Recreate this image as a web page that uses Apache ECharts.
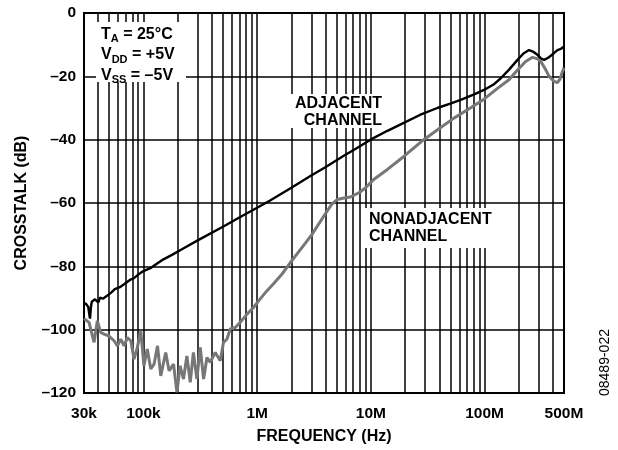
<!DOCTYPE html>
<html><head><meta charset="utf-8">
<script src="https://cdn.jsdelivr.net/npm/echarts@6/dist/echarts.min.js"></script>
<style>html,body{margin:0;padding:0;background:#fff}#c{width:618px;height:450px}</style>
</head><body><div id="c"></div>
<script>
// ---- data ----
const xTickValues = [30000, 100000, 1000000, 10000000, 100000000, 500000000];
const xTickLabels = ['30k', '100k', '1M', '10M', '100M', '500M'];
const yTicks = [-120, -100, -80, -60, -40, -20, 0];

const adjFreq = [30000,31500,32700,33500,33900,34500,35100,36500,37500,39000,40100,41500,44000,47500,52000,56000,62000,68000,76000,82000,90000,100000,115000,130000,150000,180000,218000,300000,500000,710000,1000000,1300000,2000000,2940000,3980000,5780000,7500000,9930000,14000000,19500000,27000000,38400000,50000000,61700000,80000000,98900000,120000000,139000000,165000000,195000000,220000000,246000000,270000000,292000000,315000000,334000000,360000000,383000000,410000000,438000000,470000000,500000000];
const adjDb = [-91.5,-92.0,-92.8,-95.5,-96.5,-93,-91.2,-90.8,-90.4,-91.0,-91.4,-89.9,-90.2,-89.4,-88.3,-87.2,-86.6,-85.6,-84.3,-83.8,-82.6,-81.5,-80.6,-79.3,-77.8,-76.3,-74.6,-71.8,-67.5,-64.4,-61.5,-59.2,-55.2,-51.5,-48.7,-45.1,-42.7,-40,-37.2,-34.7,-32.2,-30,-28.6,-27.4,-25.8,-24.3,-22.6,-20.6,-17.8,-14.8,-12.8,-11.7,-12.3,-13.2,-14.4,-14.8,-14.2,-13.5,-12.6,-11.7,-11.3,-10.6];

const nonFreq = [30000,31000,33200,36800,39300,42100,45000,49800,55100,59000,63200,67500,72200,77400,82700,88400,94800,101000,108000,116000,124000,133000,142000,157000,168000,184000,197000,210000,225000,241000,258000,275000,295000,316000,338000,362000,387000,428000,474000,506000,542000,580000,642000,710000,814000,930000,1030000,1200000,1400000,1650000,1960000,2400000,3040000,3850000,4500000,5050000,5800000,6620000,8000000,9000000,10600000,14000000,19500000,29200000,40000000,53800000,75000000,98900000,130000000,164000000,195000000,230000000,264000000,290000000,313000000,340000000,370000000,409000000,438000000,462000000,485000000,500000000];
const nonDb = [-96.5,-96.7,-97.7,-104,-97.2,-100.9,-101.4,-102,-103.5,-105.1,-103,-105.1,-102.5,-103.5,-109.3,-105.6,-100.4,-111.4,-106.1,-112.4,-110.9,-105.1,-114.6,-107.2,-113,-110.9,-119.8,-111.4,-115.6,-108.3,-116.6,-107.2,-115.6,-105.6,-115.6,-108.8,-110.3,-107.2,-109.8,-104,-103,-99.8,-99.3,-97.7,-95.1,-93,-90.9,-88,-85.4,-82.5,-78.8,-74.7,-69.9,-64.2,-60.5,-58.9,-58.4,-58.1,-56.6,-55.2,-52.6,-49.4,-45.3,-40,-36.5,-33.2,-30,-27.2,-23.8,-21.1,-18,-15.3,-14,-14.4,-15.3,-17.5,-20,-21.6,-22,-20.8,-18.5,-17.3];

// minor vertical grid positions (2..9 x decade, within axis range)
const minorGrid = [];
for (let d = 10000; d <= 100000000; d *= 10) {
  for (let m = 2; m <= 9; m++) {
    const v = m * d;
    if (v > 30000 && v < 500000000) minorGrid.push(v);
  }
}

const FONT = '"Liberation Sans", Arial, sans-serif';
const chart = echarts.init(document.getElementById('c'), null, {renderer: 'canvas'});

function xLabel(v) {
  for (let i = 0; i < xTickValues.length; i++) {
    if (Math.abs(v - xTickValues[i]) / xTickValues[i] < 1e-6) return xTickLabels[i];
  }
  return '';
}

const option = {
  animation: false,
  backgroundColor: '#fff',
  grid: {left: 84, right: 54, top: 13, bottom: 56, show: true, borderColor: '#000', borderWidth: 2, backgroundColor: 'transparent'},
  xAxis: {
    type: 'log', logBase: 10, min: 30000, max: 500000000,
    name: 'FREQUENCY (Hz)', nameLocation: 'middle', nameGap: 36,
    nameTextStyle: {fontFamily: FONT, fontWeight: 'bold', fontSize: 16, color: '#000'},
    axisLine: {show: true, onZero: false, lineStyle: {color: '#000', width: 2}},
    axisTick: {show: false},
    minorTick: {show: false},
    splitLine: {show: true, lineStyle: {color: '#000', width: 1.5}},
    axisLabel: {show: true, showMinLabel: true, showMaxLabel: true, margin: 13, formatter: xLabel,
      fontFamily: FONT, fontWeight: 'bold', fontSize: 15.5, color: '#000'}
  },
  yAxis: {
    type: 'value', min: yTicks[0], max: yTicks[yTicks.length - 1], interval: 20,
    name: 'CROSSTALK (dB)', nameLocation: 'middle', nameGap: 54,
    nameTextStyle: {fontFamily: FONT, fontWeight: 'bold', fontSize: 16, color: '#000'},
    axisLine: {show: true, lineStyle: {color: '#000', width: 2}},
    axisTick: {show: false},
    splitLine: {show: true, lineStyle: {color: '#000', width: 1.5}},
    axisLabel: {margin: 8, fontFamily: FONT, fontWeight: 'bold', fontSize: 15.5, color: '#000',
      formatter: v => v === 0 ? '0' : '\u2013' + Math.abs(v)}
  },
  series: [
    {
      type: 'line', name: 'grid', data: [], silent: true, z: 1,
      markLine: {
        z: 1, silent: true, symbol: 'none', animation: false,
        label: {show: false},
        lineStyle: {color: '#000', width: 1.5, type: 'solid'},
        emphasis: {disabled: true},
        data: minorGrid.map(v => ({xAxis: v}))
      }
    },
    {
      type: 'line', name: 'ADJACENT CHANNEL', showSymbol: false, z: 3,
      lineStyle: {color: '#000', width: 2.4}, itemStyle: {color: '#000'},
      data: adjFreq.map((f, i) => [f, adjDb[i]])
    },
    {
      type: 'line', name: 'NONADJACENT CHANNEL', showSymbol: false, z: 3,
      lineStyle: {color: '#777', width: 3}, itemStyle: {color: '#777'},
      data: nonFreq.map((f, i) => [f, nonDb[i]])
    }
  ],
  graphic: [
    {type: 'rect', z: 2, shape: {x: 96, y: 22, width: 90, height: 60}, style: {fill: '#fff'}, silent: true},
    {type: 'text', z: 2.5, x: 101, y: 24, silent: true, style: {
      text: 'T{sub|A} = 25°C\nV{sub|DD} = +5V\nV{sub|SS} = \u20135V',
      font: 'bold 16px ' + FONT, fill: '#000', lineHeight: 20.5,
      rich: {sub: {font: 'bold 11px ' + FONT, fill: '#000', verticalAlign: 'bottom', lineHeight: 20.5, padding: [10, 0, 0, 0]}}
    }},
    {type: 'rect', z: 2, shape: {x: 288, y: 94, width: 97, height: 34}, style: {fill: '#fff'}, silent: true},
    {type: 'text', z: 2.5, x: 382, y: 95, silent: true, style: {
      text: 'ADJACENT\nCHANNEL', font: 'bold 16px ' + FONT, fill: '#000', align: 'right', lineHeight: 17
    }},
    {type: 'rect', z: 2, shape: {x: 363, y: 208, width: 129, height: 40}, style: {fill: '#fff'}, silent: true},
    {type: 'text', z: 2.5, x: 369, y: 211, silent: true, style: {
      text: 'NONADJACENT\nCHANNEL', font: 'bold 16px ' + FONT, fill: '#000', align: 'left', lineHeight: 17
    }},
    {type: 'text', z: 2.5, x: 598, y: 396, rotation: Math.PI / 2, silent: true, style: {
      text: '08489-022', font: '14px ' + FONT, fill: '#000', align: 'left', verticalAlign: 'top'
    }}
  ]
};
chart.setOption(option);
</script>
</body></html>
